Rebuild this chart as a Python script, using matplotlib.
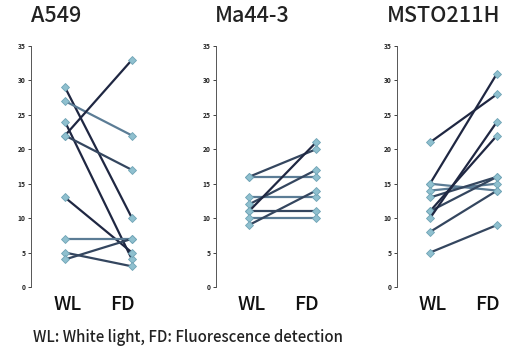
import matplotlib
matplotlib.use("Agg")
import matplotlib.pyplot as plt

plt.rcParams["font.family"] = ["Noto Sans CJK JP", "DejaVu Sans"]

conditions = ["WL", "FD"]
cell_lines = ["A549", "Ma44-3", "MSTO211H"]

a549_wl = [29, 27, 24, 22, 22, 13, 7, 5, 4]
a549_fd = [10, 22, 4, 33, 17, 5, 7, 3, 7]

ma44_wl = [16, 16, 13, 12, 11, 11, 10, 9]
ma44_fd = [20, 16, 13, 17, 21, 11, 10, 14]

msto_wl = [21, 15, 15, 14, 13, 11, 11, 10, 8, 5]
msto_fd = [28, 31, 14, 15, 16, 22, 16, 24, 14, 9]

# line shades (0 = dark navy, 1 = mid, 2 = light steel)
a549_shade = [0, 2, 0, 0, 1, 0, 2, 1, 1]
ma44_shade = [1, 2, 2, 1, 0, 1, 2, 1]
msto_shade = [0, 0, 2, 2, 1, 0, 1, 0, 1, 1]

shade_colors = ["#1f2742", "#34465f", "#5b7c95"]

panels = [
    (a549_wl, a549_fd, a549_shade),
    (ma44_wl, ma44_fd, ma44_shade),
    (msto_wl, msto_fd, msto_shade),
]

W, H = 513, 347
fig = plt.figure(figsize=(W / 100, H / 100), dpi=100)

spine_x = [31, 216, 397]
wl_px = [65, 249, 430]
step_px = 67
top_px, bot_px = 46, 287

title_x = [31, 215, 387]

for i, (wl, fd, shade) in enumerate(panels):
    # axes left edge at spine; x=0 at WL position
    x0 = spine_x[i]
    lo = -(wl_px[i] - x0) / step_px
    hi = (W - 1 - x0) / step_px + lo if i == 2 else 1.6
    width_px = (hi - lo) * step_px
    ax = fig.add_axes([x0 / W, 1 - bot_px / H, width_px / W, (bot_px - top_px) / H])
    for a, b, s in zip(wl, fd, shade):
        ax.plot([0, 1], [a, b], color=shade_colors[s], lw=1.6, zorder=2,
                marker="D", markersize=3.8, markerfacecolor="#8fc0cf",
                markeredgecolor="#6fa3b5", markeredgewidth=0.6)
    ax.set_xlim(lo, hi)
    ax.set_ylim(0, 35)
    ax.set_yticks(range(0, 36, 5))
    ax.tick_params(axis="y", labelsize=4.8, length=2, width=0.6, pad=2,
                   colors="#222222")
    for lab in ax.get_yticklabels():
        lab.set_fontweight("bold")
    ax.set_xticks([])
    for side in ["top", "right", "bottom"]:
        ax.spines[side].set_visible(False)
    ax.spines["left"].set_linewidth(0.7)
    ax.spines["left"].set_color("#555555")
    ax.patch.set_alpha(0)

    fig.text(title_x[i] / W, 1 - 16 / H, cell_lines[i], fontsize=15.5,
             fontweight="medium", ha="left", va="center", color="#222222")
    fig.text((wl_px[i] + 3) / W, 1 - 305 / H, conditions[0], fontsize=14,
             fontweight="medium", ha="center", va="center", color="#111111")
    fig.text((wl_px[i] + step_px - 10) / W, 1 - 305 / H, conditions[1], fontsize=14,
             fontweight="medium", ha="center", va="center", color="#111111")

fig.text(33 / W, 1 - 338 / H, "WL: White light, FD: Fluorescence detection",
         fontsize=10.8, fontweight="medium", ha="left", va="center", color="#222222")

fig.savefig("out.png", dpi=100)
